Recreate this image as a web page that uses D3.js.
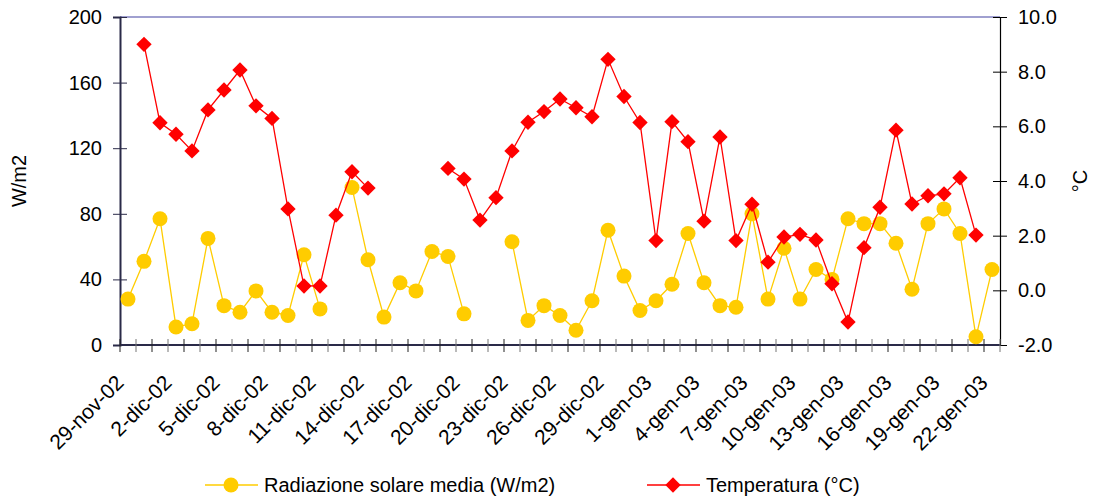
<!DOCTYPE html>
<html>
<head>
<meta charset="utf-8">
<script src="https://cdn.jsdelivr.net/npm/d3@7"></script>
<style>
  body { margin: 0; background: #fff; }
  svg { font-family: "Liberation Sans", Arial, sans-serif; }
</style>
</head>
<body>
<svg width="1094" height="501"></svg>
<script>
// giorni (categorie)
let giorni = ["29-nov-02","30-nov-02",
  "1-dic-02","2-dic-02","3-dic-02","4-dic-02","5-dic-02","6-dic-02","7-dic-02","8-dic-02","9-dic-02","10-dic-02",
  "11-dic-02","12-dic-02","13-dic-02","14-dic-02","15-dic-02","16-dic-02","17-dic-02","18-dic-02","19-dic-02","20-dic-02",
  "21-dic-02","22-dic-02","23-dic-02","24-dic-02","25-dic-02","26-dic-02","27-dic-02","28-dic-02","29-dic-02","30-dic-02","31-dic-02",
  "1-gen-03","2-gen-03","3-gen-03","4-gen-03","5-gen-03","6-gen-03","7-gen-03","8-gen-03","9-gen-03","10-gen-03",
  "11-gen-03","12-gen-03","13-gen-03","14-gen-03","15-gen-03","16-gen-03","17-gen-03","18-gen-03","19-gen-03","20-gen-03",
  "21-gen-03","22-gen-03"];

// etichette mostrate sull'asse x
let etichette = ["29-nov-02","2-dic-02","5-dic-02","8-dic-02","11-dic-02","14-dic-02","17-dic-02","20-dic-02",
  "23-dic-02","26-dic-02","29-dic-02","1-gen-03","4-gen-03","7-gen-03","10-gen-03","13-gen-03","16-gen-03","19-gen-03","22-gen-03"];

// radiazione solare media (W/m2)
let radiazione = [28,51,77,11,13,65,24,20,33,20,18,55,22,null,96,52,17,38,33,57,54,19,null,null,
  63,15,24,18,9,27,70,42,21,27,37,68,38,24,23,80,28,59,28,46,40,77,74,74,62,34,74,83,68,5,46];

// temperatura (°C)
let temperatura = [null,9.0,6.13,5.71,5.10,6.60,7.33,8.06,6.75,6.29,2.98,0.16,0.16,2.75,4.34,3.74,
  null,null,null,null,4.46,4.07,2.57,3.39,5.10,6.15,6.54,7.0,6.68,6.35,8.45,7.09,6.14,1.82,6.17,5.44,
  2.53,5.61,1.82,3.15,1.03,1.95,2.05,1.84,0.24,-1.16,1.56,3.04,5.86,3.16,3.46,3.53,4.12,2.02,null];

let tickSx = [0,40,80,120,160,200];
let tickDx = [-2,0,2,4,6,8,10];

var pL = 120, pR = 1000, pT = 17, pB = 345;
var svg = d3.select("svg");

var x = d3.scaleBand().domain(giorni).range([pL, pR]).padding(0);
var yL = d3.scaleLinear().domain([0, 200]).range([pB, pT]);
var yR = d3.scaleLinear().domain([-2, 10]).range([pB, pT]);
var cx = function(d, i) { return x(giorni[i]) + x.bandwidth() / 2; };

// bordo superiore
svg.append("line").attr("x1", pL).attr("x2", pR).attr("y1", pT).attr("y2", pT)
  .attr("stroke", "#8080c0").attr("stroke-width", 1.5);

// asse sinistro
var axL = svg.append("g").attr("transform", "translate(" + pL + ",0)")
  .call(d3.axisLeft(yL).tickValues(tickSx).tickSize(7).tickPadding(11));
axL.select(".domain").attr("stroke", "#2a2a48").attr("stroke-width", 2);
axL.selectAll(".tick line").attr("x1", 7).attr("stroke", "#2a2a48");
axL.selectAll("text").attr("font-size", 20).attr("fill", "#000");
axL.attr("font-family", null);

// asse destro
var axR = svg.append("g").attr("transform", "translate(" + pR + ",0)")
  .call(d3.axisRight(yR).tickValues(tickDx).tickSize(7).tickPadding(11));
axR.select(".domain").attr("stroke", "#000").attr("stroke-width", 1.2);
axR.selectAll(".tick line").attr("x1", -7).attr("stroke", "#000");
axR.selectAll("text").attr("font-size", 20).attr("fill", "#000")
  .text(function(d) { return d.toFixed(1); });
axR.attr("font-family", null);

// asse x
svg.append("line").attr("x1", pL).attr("x2", pR).attr("y1", pB).attr("y2", pB)
  .attr("stroke", "#2a2a48").attr("stroke-width", 2);
var bordi = giorni.map(function(g) { return x(g); }).concat([pR]);
svg.selectAll(".xtick").data(bordi).enter().append("line")
  .attr("class", "xtick")
  .attr("x1", function(d) { return d; }).attr("x2", function(d) { return d; })
  .attr("y1", pB - 6).attr("y2", pB + 7)
  .attr("stroke", function(d, i) { return i % 2 ? "#777" : "#222"; });

svg.selectAll(".xlab").data(etichette).enter().append("text")
  .attr("class", "xlab")
  .attr("text-anchor", "end")
  .attr("font-size", 21)
  .attr("transform", function(d) {
    return "translate(" + (x(d) + x.bandwidth() / 2 - 3) + "," + (pB + 39) + ") rotate(-45)";
  })
  .text(function(d) { return d; });

// titoli assi
svg.append("text").attr("transform", "translate(26,181) rotate(-90)")
  .attr("text-anchor", "middle").attr("font-size", 20).text("W/m2");
svg.append("text").attr("transform", "translate(1087,181) rotate(-90)")
  .attr("text-anchor", "middle").attr("font-size", 20).text("°C");

// serie radiazione
var lineaS = d3.line().defined(function(d) { return d != null; })
  .x(cx).y(function(d) { return yL(d); });
svg.append("path").datum(radiazione).attr("d", lineaS)
  .attr("fill", "none").attr("stroke", "#ffcc00").attr("stroke-width", 1.3);
radiazione.forEach(function(d, i) {
  if (d == null) return;
  svg.append("circle").attr("cx", cx(d, i)).attr("cy", yL(d)).attr("r", 7.5).attr("fill", "#ffcc00");
});

// serie temperatura
var lineaT = d3.line().defined(function(d) { return d != null; })
  .x(cx).y(function(d) { return yR(d); });
svg.append("path").datum(temperatura).attr("d", lineaT)
  .attr("fill", "none").attr("stroke", "#ff0000").attr("stroke-width", 1.3);
var diamante = d3.symbol().type(d3.symbolDiamond2).size(150);
temperatura.forEach(function(d, i) {
  if (d == null) return;
  svg.append("path").attr("d", diamante)
    .attr("transform", "translate(" + cx(d, i) + "," + yR(d) + ")")
    .attr("fill", "#ff0000");
});

// legenda
var leg = [
  {nome: "Radiazione solare media (W/m2)", colore: "#ffcc00", x0: 205, tipo: "c"},
  {nome: "Temperatura (°C)", colore: "#ff0000", x0: 647, tipo: "d"}
];
var ly = 485;
leg.forEach(function(l) {
  svg.append("line").attr("x1", l.x0).attr("x2", l.x0 + 53).attr("y1", ly).attr("y2", ly)
    .attr("stroke", l.colore).attr("stroke-width", 1.3);
  if (l.tipo == "c") {
    svg.append("circle").attr("cx", l.x0 + 26).attr("cy", ly).attr("r", 7.5).attr("fill", l.colore);
  } else {
    svg.append("path").attr("d", diamante).attr("transform", "translate(" + (l.x0 + 26) + "," + ly + ")")
      .attr("fill", l.colore);
  }
  svg.append("text").attr("x", l.x0 + 59).attr("y", ly + 7).attr("font-size", 20).text(l.nome);
});
</script>
</body>
</html>
